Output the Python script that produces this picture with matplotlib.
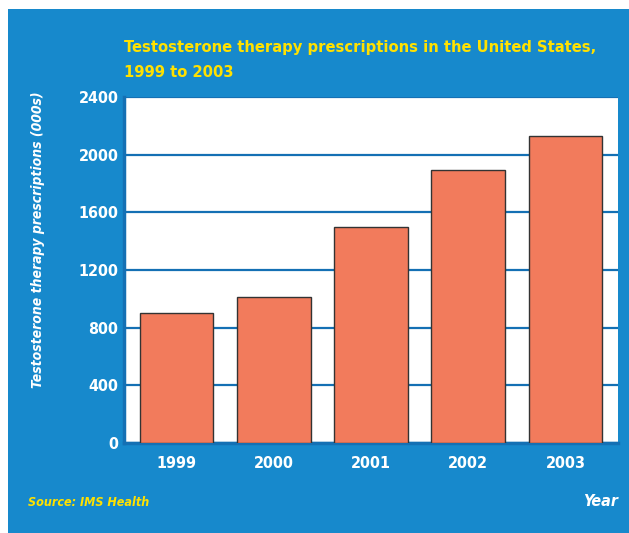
import matplotlib.pyplot as plt
from matplotlib.patches import Rectangle

years = ['1999', '2000', '2001', '2002', '2003']
prescriptions = [905, 1010, 1500, 1895, 2130]
yticks = [0, 400, 800, 1200, 1600, 2000, 2400]

blue_bg = '#1789cc'
grid_blue = '#1470b4'
bar_color = '#f27b5c'
yellow = '#ffe100'

plt.rcParams['font.family'] = ['DejaVu Sans']
plt.rcParams['font.stretch'] = 'condensed'

fig = plt.figure(figsize=(6.29, 5.33), dpi=100)
fig.patch.set_facecolor('white')
# blue panel behind everything
fig.patches.append(Rectangle((8 / 629, 0), 1 - 8 / 629, 1 - 9 / 533,
                             transform=fig.transFigure, facecolor=blue_bg,
                             edgecolor='none', zorder=-10))

ax = fig.add_axes([124 / 629, 1 - 443 / 533, 494 / 629, 346 / 533])
ax.set_facecolor('white')

x = range(len(years))
ax.bar(x, prescriptions, width=0.76, color=bar_color, edgecolor='#333333',
       linewidth=1, zorder=3)

ax.set_xlim(-0.54, 4.54)
ax.set_ylim(0, 2400)
ax.set_yticks(yticks)
ax.set_xticks(list(x))
ax.set_xticklabels(years)
ax.yaxis.grid(True, color=grid_blue, linewidth=1.6, zorder=1)
ax.set_axisbelow(True)

for side in ['top', 'right']:
    ax.spines[side].set_visible(False)
for side in ['left', 'bottom']:
    ax.spines[side].set_color(grid_blue)
    ax.spines[side].set_linewidth(2.5)

ax.tick_params(axis='both', colors='white', length=0, labelsize=11.5)
ax.tick_params(axis='x', pad=9)
ax.tick_params(axis='y', pad=4)
for lab in ax.get_xticklabels() + ax.get_yticklabels():
    lab.set_fontweight('bold')
    lab.set_color('white')

# y label placed a bit above the axes centre, as in the original
fig.text(38 / 629, 1 - 240 / 533, 'Testosterone therapy prescriptions (000s)',
         color='white', fontsize=10, fontweight='bold', style='italic',
         rotation=90, ha='center', va='center')

fig.text(124 / 629, 1 - 60 / 533, 'Testosterone therapy prescriptions in the United States,\n1999 to 2003',
         color=yellow, fontsize=11.8, fontweight='bold', ha='left', va='center',
         linespacing=1.85)
fig.text(28 / 629, 1 - 503 / 533, 'Source: IMS Health', color=yellow,
         fontsize=9, fontweight='bold', style='italic', ha='left', va='center')
fig.text(618 / 629, 1 - 502 / 533, 'Year', color='white',
         fontsize=11.5, fontweight='bold', style='italic', ha='right', va='center')

fig.savefig('out.png', dpi=100, facecolor=fig.get_facecolor())
